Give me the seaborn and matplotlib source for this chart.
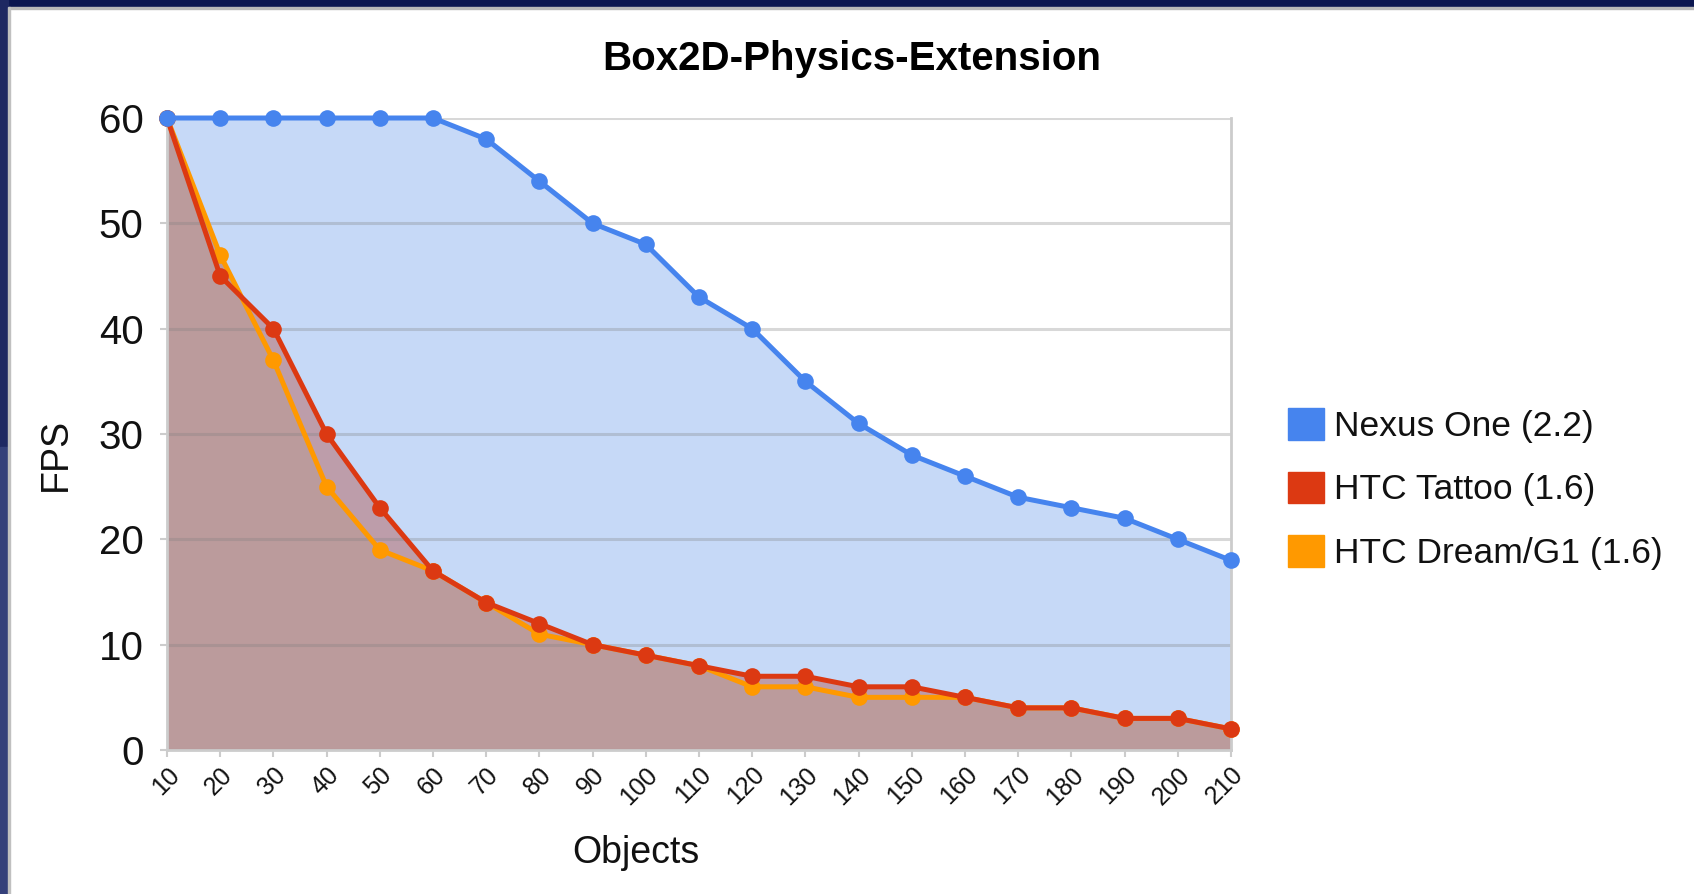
import numpy as np
import pandas as pd
import matplotlib
matplotlib.use("Agg")
import matplotlib.pyplot as plt
import matplotlib.patches as mpatches
import seaborn as sns

# ---- data ----
objects = [10, 20, 30, 40, 50, 60, 70, 80, 90, 100, 110, 120, 130, 140, 150, 160, 170, 180, 190, 200, 210]
nexus_one = [60, 60, 60, 60, 60, 60, 58, 54, 50, 48, 43, 40, 35, 31, 28, 26, 24, 23, 22, 20, 18]
htc_tattoo = [60, 45, 40, 30, 23, 17, 14, 12, 10, 9, 8, 7, 7, 6, 6, 5, 4, 4, 3, 3, 2]
htc_dream = [60, 47, 37, 25, 19, 17, 14, 11, 10, 9, 8, 6, 6, 5, 5, 5, 4, 4, 3, 3, 2]
series_names = ["Nexus One (2.2)", "HTC Tattoo (1.6)", "HTC Dream/G1 (1.6)"]
y_ticks = [0, 10, 20, 30, 40, 50, 60]
title = "Box2D-Physics-Extension"

blue, red, orange = "#4684EE", "#DC3912", "#FF9900"

sns.set_theme(style="white")
plt.rcParams["font.family"] = ["Liberation Sans", "DejaVu Sans"]

W, H = 1694, 894
fig = plt.figure(figsize=(W / 100, H / 100), dpi=100)
fig.patch.set_facecolor("white")

ax = fig.add_axes([167 / W, 1 - 750 / H, (1231 - 167) / W, (750 - 118) / H])
ax.set_facecolor("white")

df = pd.DataFrame({"Objects": objects, "Nexus": nexus_one, "Tattoo": htc_tattoo, "Dream": htc_dream})

# fills
ax.fill_between(df["Objects"], 0, df["Nexus"], color="#C6D9F7", lw=0, zorder=1)
ax.fill_between(df["Objects"], 0, df["Tattoo"], color="#BD9DAA", lw=0, zorder=1.1)
ax.fill_between(df["Objects"], 0, df["Dream"], color="#BB9B9C", lw=0, zorder=1.2)
ax.fill_between(df["Objects"], 0, np.minimum(df["Tattoo"], df["Dream"]), color="#BB9B9C", lw=0, zorder=1.3)

# grid
ax.set_axisbelow("line")
ax.yaxis.grid(True, color=(0.5, 0.5, 0.5), alpha=0.3, linewidth=2.2)
ax.xaxis.grid(False)

lw, ms = 3.6, 12
for col, c, z in [("Dream", orange, 3), ("Tattoo", red, 4), ("Nexus", blue, 5)]:
    sns.lineplot(data=df, x="Objects", y=col, ax=ax, color=c, linewidth=lw,
                 marker="o", markersize=ms, markeredgewidth=0, zorder=z, clip_on=False)

ax.set_xlim(10, 210)
ax.set_ylim(0, 60)
ax.set_xticks(objects)
ax.set_xticklabels([str(v) for v in objects], rotation=45, ha="right",
                   rotation_mode="anchor", fontsize=18, color="#111111")
ax.set_yticks(y_ticks)
ax.set_yticklabels([str(v) for v in y_ticks], fontsize=29, color="#111111")
ax.tick_params(axis="y", length=5, width=1.5, color="#CCCCCC", pad=12, left=True)
ax.tick_params(axis="x", length=5, width=1.5, color="#CCCCCC", pad=4, bottom=True)
ax.set_xlabel("")
ax.set_ylabel("")

for s in ["left", "bottom", "right"]:
    ax.spines[s].set_color("#CCCCCC")
    ax.spines[s].set_linewidth(2)
ax.spines["top"].set_visible(False)

fig.text(852 / W, 1 - 59 / H, title, ha="center", va="center", fontsize=29,
         fontweight="bold", color="#000000")
fig.text(636 / W, 1 - 853 / H, "Objects", ha="center", va="center", fontsize=27, color="#111111")
fig.text(56 / W, 1 - 454 / H, "FPS", ha="center", va="center", fontsize=27,
         rotation=90, color="#111111")

handles = [mpatches.Patch(color=c, label=n) for c, n in zip([blue, red, orange], series_names)]
leg = fig.legend(handles=handles, loc="center left", bbox_to_anchor=(1274 / W, 1 - 489 / H),
                 frameon=False, fontsize=25.5, handlelength=1.0, handleheight=1.0,
                 handletextpad=0.3, labelspacing=0.8, borderaxespad=0)
for t in leg.get_texts():
    t.set_color("#111111")

# page frame (dark border at top and left)
fig.patches.append(mpatches.Rectangle((0, 1 - 7 / H), 1, 7 / H, transform=fig.transFigure,
                                      color="#0B1650", zorder=10))
fig.patches.append(mpatches.Rectangle((0, 1 - 9 / H), 1, 2 / H, transform=fig.transFigure,
                                      color="#B8B8B8", zorder=10))
fig.patches.append(mpatches.Rectangle((0, 0.5), 8 / W, 0.5, transform=fig.transFigure,
                                      color="#1E2862", zorder=10))
fig.patches.append(mpatches.Rectangle((0, 0), 8 / W, 0.5, transform=fig.transFigure,
                                      color="#34407A", zorder=10))
fig.patches.append(mpatches.Rectangle((8 / W, 0), 2 / W, 1 - 7 / H, transform=fig.transFigure,
                                      color="#C0C0C0", zorder=10))

fig.savefig("out.png", dpi=100)
